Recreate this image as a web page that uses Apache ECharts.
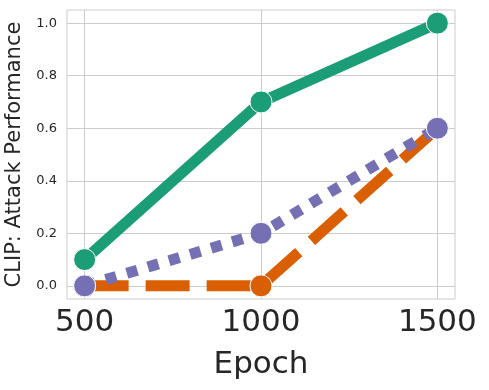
<!DOCTYPE html>
<html><head><meta charset="utf-8">
<script src="https://cdn.jsdelivr.net/npm/echarts@6/dist/echarts.min.js"></script>
<style>html,body{margin:0;padding:0;background:#fff}#c{width:489px;height:390px}</style>
</head><body><div id="c"></div>
<script>
const epochs = [500, 1000, 1500];
const greenVals = [0.1, 0.7, 1.0];
const orangeVals = [0.0, 0.0, 0.6];
const purpleVals = [0.0, 0.2, 0.6];
const yTicks = [0.0, 0.2, 0.4, 0.6, 0.8, 1.0];
const xTicks = [500, 1000, 1500];

const txt = '#262626', grid = '#cccccc';
const font = 'DejaVu Sans';
function mk(vals, color, type, z) {
  return {
    type: 'line', data: epochs.map((e, i) => [e, vals[i]]),
    symbol: 'circle', symbolSize: 22, z: z,
    lineStyle: { color: color, width: 11, type: type, cap: 'butt' },
    itemStyle: { color: color, borderColor: '#fff', borderWidth: 1 },
    emphasis: { disabled: true }, animation: false
  };
}
const chart = echarts.init(document.getElementById('c'));
chart.setOption({
  animation: false,
  grid: { left: 67, top: 10, right: 34, bottom: 91, show: true, borderColor: grid, borderWidth: 1,
    backgroundColor: 'transparent', outerBoundsMode: 'none', containLabel: false },
  xAxis: {
    type: 'value', min: 450, max: 1550,
    name: 'Epoch', nameLocation: 'middle', nameGap: 50,
    nameTextStyle: { fontFamily: font, fontSize: 31, color: txt },
    axisLine: { show: false }, axisTick: { show: false, customValues: xTicks },
    axisLabel: { customValues: xTicks, fontFamily: font, fontSize: 31, color: txt, margin: 8,
      formatter: v => String(v) },
    splitLine: { show: true, lineStyle: { color: grid, width: 1 } }
  },
  yAxis: {
    type: 'value', min: -0.05, max: 1.05,
    name: 'CLIP: Attack Performance', nameLocation: 'middle', nameGap: 38,
    nameTextStyle: { fontFamily: font, fontSize: 21, color: txt },
    axisLine: { show: false }, axisTick: { show: false, customValues: yTicks },
    axisLabel: { customValues: yTicks, fontFamily: font, fontSize: 13, color: txt, margin: 10,
      formatter: v => v.toFixed(1) },
    splitLine: { show: true, lineStyle: { color: grid, width: 1 } }
  },
  series: [
    mk(greenVals, '#1b9e77', 'solid', 4),
    mk(orangeVals, '#d95f02', [44, 17], 3),
    mk(purpleVals, '#7570b3', [11, 11], 5)
  ]
});
</script></body></html>
